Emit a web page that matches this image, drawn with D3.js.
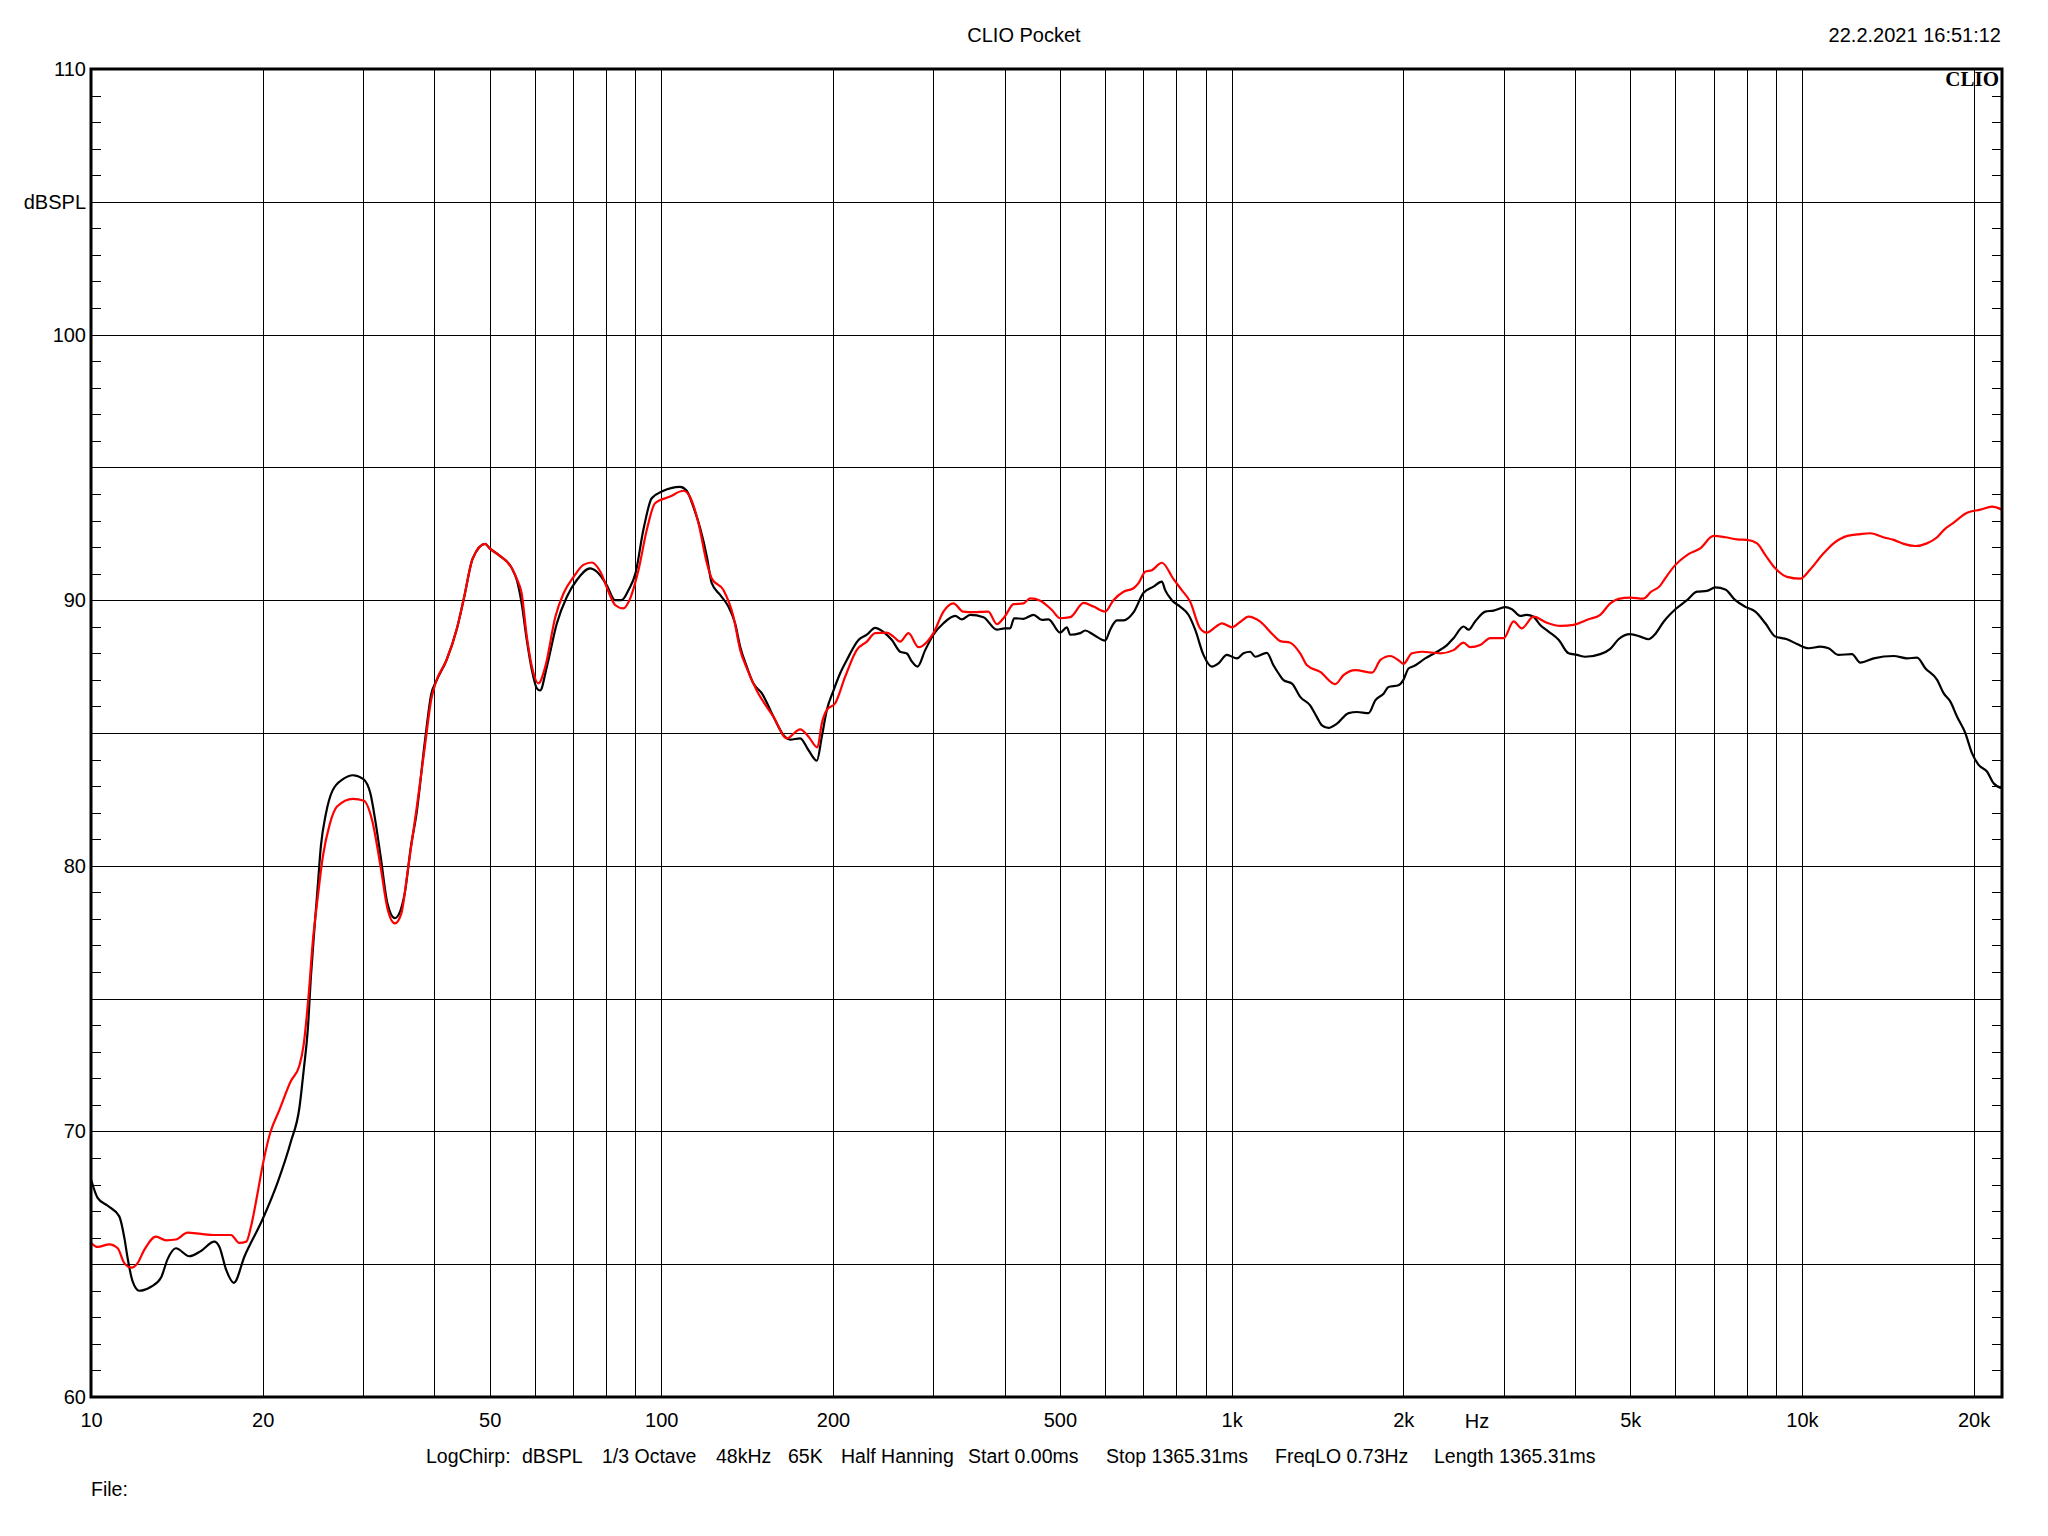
<!DOCTYPE html>
<html>
<head>
<meta charset="utf-8">
<script src="https://cdn.jsdelivr.net/npm/d3@7/dist/d3.min.js"></script>
<style>
  html, body { margin: 0; padding: 0; background: #fff; }
  svg { display: block; }
  text { font-family: "Liberation Sans", Arial, sans-serif; fill: #000; }
</style>
</head>
<body>
<svg id="chart" width="2048" height="1536"></svg>
<script>
(function () {
// ---------- DATA ----------
const titleText = "CLIO Pocket";
const dateText = "22.2.2021 16:51:12";
const fileText = "File:";
const unitX = "Hz";
const unitY = "dBSPL";

const xDomain = [10, 22430];
const yDomain = [60, 110];

const xLabelValues = [10, 20, 50, 100, 200, 500, 1000, 2000, 5000, 10000, 20000];
const xLabelTexts  = ["10", "20", "50", "100", "200", "500", "1k", "2k", "5k", "10k", "20k"];
const xGridValues  = [20, 30, 40, 50, 60, 70, 80, 90, 100, 200, 300, 400, 500, 600, 700, 800, 900,
                      1000, 2000, 3000, 4000, 5000, 6000, 7000, 8000, 9000, 10000, 20000];
const yLabelValues = [60, 70, 80, 90, 100, 110];
const yGridValues  = [65, 70, 75, 80, 85, 90, 95, 100, 105];
const yMinorValues = [61,62,63,64,66,67,68,69,71,72,73,74,76,77,78,79,81,82,83,84,86,87,88,89,
                      91,92,93,94,96,97,98,99,101,102,103,104,106,107,108,109];

const infoItems = ["LogChirp:", "dBSPL", "1/3 Octave", "48kHz", "65K", "Half Hanning",
                   "Start 0.00ms", "Stop 1365.31ms", "FreqLO 0.73Hz", "Length 1365.31ms"];

// black trace: [frequency Hz, level dB]
const blackCurve = [
[10,68.2],[10.27,67.5],[10.7,67.2],[11.21,66.8],[11.44,66.0],[11.6,65.2],[11.83,64.35],[12.15,64.0],
[12.74,64.15],[13.27,64.5],[13.63,65.2],[14.09,65.6],[14.87,65.3],[15.59,65.5],[16.45,65.85],[16.79,65.66],
[17.25,64.8],[17.8,64.3],[18.59,65.3],[20.0,66.7],[21.3,68.15],[22.4,69.6],[23.2,70.9],[23.6,72.3],
[24.0,73.86],[24.3,75.83],[24.6,77.4],[24.97,79.18],[25.3,80.75],[25.8,81.93],[26.5,82.82],[27.7,83.27],
[28.8,83.41],[30.0,83.27],[30.9,82.72],[31.5,81.73],[32.2,80.35],[33.1,78.58],[34.1,78.03],[34.7,78.2],
[35.5,78.98],[36.4,80.75],[37.2,81.93],[38.5,84.68],[39.5,86.46],[40.3,86.95],[42.0,87.74],[43.8,88.92],
[45.1,90.1],[46.7,91.57],[49.1,92.12],[50.0,91.95],[51.9,91.7],[54.7,91.2],[55.8,90.76],[56.9,89.88],
[58.1,88.5],[59.3,87.37],[60.5,86.68],[61.3,86.6],[63.0,87.5],[65.6,89.13],[68.3,90.13],[71.1,90.76],
[75.0,91.2],[77.1,91.07],[80.2,90.57],[83.0,90.0],[85.2,90.0],[87.6,90.38],[90.1,91.01],[93.0,92.64],
[96.2,93.84],[100.2,94.09],[107.9,94.27],[110.8,94.12],[113.8,93.52],[117,92.71],[120.2,91.64],[122.6,90.64],
[126.8,90.2],[131.1,89.76],[134.7,89.13],[137.5,88.25],[141.2,87.5],[145.0,86.87],[150.1,86.49],[157.3,85.61],
[163.8,84.92],[168.2,84.75],[175.2,84.8],[181.1,84.36],[187.4,83.96],[191.2,84.87],[195.1,85.87],[200.4,86.6],
[205.9,87.25],[211.5,87.75],[221.7,88.5],[229.3,88.7],[237.1,88.96],[245.3,88.8],[253.7,88.5],[262.3,88.06],
[269.5,87.99],[275,87.69],[281.4,87.5],[290.2,88.12],[300,88.7],[312.4,89.13],[327.5,89.41],[336.5,89.28],
[348,89.45],[367.2,89.36],[387.6,88.89],[400,88.94],[408.9,88.94],[415.6,89.32],[431.5,89.3],[449.4,89.45],
[464.9,89.26],[477.5,89.28],[500.5,88.78],[514.2,88.98],[521.2,88.7],[542.7,88.76],[553.8,88.86],[572.6,88.7],
[600.3,88.48],[612.5,88.89],[629.2,89.24],[646.3,89.24],[672.9,89.54],[700.8,90.28],[729.5,90.51],[754.6,90.7],
[764.7,90.38],[785.6,90.0],[812.3,89.76],[840.1,89.45],[863.2,88.89],[892.6,87.94],[923.5,87.5],[948.5,87.62],
[980.9,87.94],[1022,87.81],[1049,88.0],[1078,88.06],[1100,87.87],[1153,88.02],[1184,87.55],[1209,87.24],
[1233,86.99],[1276,86.86],[1319,86.36],[1373,86.04],[1411,85.6],[1440,85.29],[1479,85.19],[1530,85.35],
[1604,85.75],[1659,85.79],[1739,85.75],[1786,86.23],[1847,86.48],[1884,86.73],[1962,86.8],[2000,86.99],
[2043,87.43],[2084,87.51],[2185,87.81],[2291,88.06],[2386,88.31],[2450,88.57],[2551,89.01],[2604,88.89],
[2673,89.2],[2785,89.57],[2880,89.61],[3018,89.74],[3101,89.66],[3206,89.41],[3294,89.45],[3383,89.38],
[3476,89.07],[3595,88.82],[3744,88.51],[3899,88.0],[4033,87.94],[4170,87.87],[4430,87.97],[4613,88.17],
[4769,88.53],[5000,88.72],[5207,88.63],[5384,88.53],[5533,88.73],[5721,89.19],[6000,89.66],[6288,90.0],
[6546,90.32],[6816,90.35],[7048,90.48],[7339,90.4],[7642,90.0],[7958,89.75],[8286,89.57],[8628,89.13],
[8981,88.63],[9415,88.53],[9803,88.35],[10275,88.19],[10773,88.25],[11137,88.19],[11596,87.94],[12239,87.97],
[12658,87.65],[13361,87.81],[14480,87.9],[15285,87.81],[15920,87.84],[16456,87.44],[17261,87.0],[17728,86.49],
[18210,86.18],[18711,85.61],[19339,85.0],[19870,84.24],[20409,83.8],[21110,83.55],[21683,83.11],[22429,82.92]
];

// red trace: [frequency Hz, level dB]
const redCurve = [
[10,65.8],[10.27,65.65],[10.77,65.75],[11.14,65.6],[11.44,65.04],[11.78,64.87],[12.07,65.04],[12.4,65.54],
[13.0,66.04],[13.54,65.9],[14.09,65.93],[14.77,66.19],[15.59,66.14],[16.45,66.1],[17.6,66.1],[18.19,65.8],
[18.72,65.85],[19.07,66.4],[19.59,67.67],[20.0,68.73],[20.6,69.92],[21.4,70.81],[22.4,71.89],[23.2,72.48],
[23.6,73.27],[24.1,75.24],[24.5,77.21],[24.97,78.78],[25.5,80.35],[26.2,81.54],[27.0,82.23],[28.8,82.52],
[30.1,82.45],[31.1,81.73],[32.2,79.96],[33.1,78.39],[34.1,77.83],[35.0,78.2],[35.9,79.77],[37.2,82.1],
[38.5,84.5],[39.5,86.26],[40.3,86.95],[42.0,87.74],[43.8,88.92],[45.1,90.1],[46.7,91.57],[49.1,92.12],
[50.0,91.95],[51.9,91.7],[54.7,91.2],[55.8,90.8],[56.9,90.26],[58.1,88.63],[59.3,87.5],[60.9,86.87],
[62.6,87.5],[65.2,89.38],[67.4,90.26],[70.2,90.88],[73.0,91.33],[75.5,91.42],[78.2,91.07],[80.8,90.32],
[83.0,89.82],[85.8,89.69],[88.2,90.07],[91.2,91.14],[94.3,92.64],[97.5,93.65],[103.6,93.9],[109.3,94.12],
[112.2,93.9],[116.2,92.9],[120.2,91.39],[122.6,90.82],[128.5,90.38],[133.8,89.38],[137.5,88.13],[141.2,87.44],
[147.0,86.6],[157.3,85.61],[166,84.8],[175.2,85.14],[181.1,84.87],[187.8,84.46],[191.2,85.37],[195.1,85.87],
[201.8,86.12],[210.1,87.12],[220.2,88.13],[229.3,88.44],[237.1,88.76],[248.5,88.78],[255.3,88.63],[262.3,88.44],
[271.3,88.76],[282.5,88.23],[292.5,88.44],[300,88.76],[312.4,89.57],[325.2,89.88],[338.3,89.57],[352.1,89.55],
[374.4,89.57],[387.6,89.1],[400,89.38],[414.6,89.85],[431.5,89.88],[443.4,90.07],[461.8,89.98],[484.1,89.63],
[500.5,89.32],[521.2,89.36],[550.1,89.9],[572.6,89.76],[600.3,89.57],[620.5,90.0],[646.3,90.32],[672.9,90.45],
[686.7,90.64],[705.5,91.07],[724.7,91.13],[754.6,91.41],[791,90.79],[817.8,90.38],[845.7,89.95],[880.6,88.94],
[904.5,88.78],[942.2,89.03],[961.8,89.13],[1001,88.98],[1035,89.18],[1071,89.38],[1121,89.2],[1184,88.68],
[1217,88.46],[1267,88.4],[1319,88.0],[1356,87.55],[1430,87.3],[1520,86.84],[1571,87.18],[1648,87.37],
[1763,87.27],[1824,87.75],[1896,87.9],[1975,87.69],[2000,87.6],[2071,88.0],[2156,88.06],[2323,88.0],
[2450,88.12],[2551,88.4],[2621,88.23],[2728,88.31],[2842,88.57],[3000,88.57],[3122,89.2],[3227,88.94],
[3383,89.38],[3571,89.15],[3770,89.03],[3979,89.07],[4226,89.28],[4430,89.45],[4613,89.88],[4769,90.05],
[5000,90.1],[5269,90.06],[5441,90.32],[5644,90.55],[5756,90.82],[6000,91.33],[6288,91.7],[6632,91.95],
[7000,92.42],[7339,92.37],[7695,92.29],[8012,92.27],[8343,92.14],[8628,91.7],[8981,91.2],[9415,90.88],
[9935,90.81],[10341,91.16],[10847,91.7],[11366,92.14],[12008,92.42],[12658,92.49],[13165,92.52],[13890,92.37],
[14480,92.27],[15081,92.12],[15811,92.04],[16558,92.14],[17261,92.37],[17728,92.64],[18456,92.92],[19475,93.29],
[20547,93.41],[21543,93.52],[22429,93.41]
];

// ---------- LAYOUT ----------
const pL = 91, pR = 2002, pT = 69, pB = 1397;
const W = pR - pL, H = pB - pT;

const svg = d3.select("#chart");
const x = d3.scaleLog().domain(xDomain).range([pL, pR]);
const y = d3.scaleLinear().domain(yDomain).range([pB, pT]);

const styleLines = g => g.selectAll("line").attr("stroke", "#000").attr("stroke-width", 1)
  .attr("shape-rendering", "crispEdges");

// grid (vertical)
svg.append("g")
  .attr("transform", `translate(0,${pB})`)
  .call(d3.axisBottom(x).tickValues(xGridValues).tickSize(-H).tickFormat(""))
  .call(g => g.select(".domain").remove())
  .call(styleLines);

// grid (horizontal)
svg.append("g")
  .attr("transform", `translate(${pL},0)`)
  .call(d3.axisLeft(y).tickValues(yGridValues).tickSize(-W).tickFormat(""))
  .call(g => g.select(".domain").remove())
  .call(styleLines);

// minor ticks left and right
svg.append("g")
  .attr("transform", `translate(${pL},0)`)
  .call(d3.axisLeft(y).tickValues(yMinorValues).tickSize(-10).tickFormat(""))
  .call(g => g.select(".domain").remove())
  .call(styleLines);
svg.append("g")
  .attr("transform", `translate(${pR},0)`)
  .call(d3.axisRight(y).tickValues(yMinorValues).tickSize(-10).tickFormat(""))
  .call(g => g.select(".domain").remove())
  .call(styleLines);

// clip
svg.append("defs").append("clipPath").attr("id", "plotclip")
  .append("rect").attr("x", pL).attr("y", pT).attr("width", W).attr("height", H);

const line = d3.line()
  .x(d => x(d[0]))
  .y(d => y(d[1]))
  .curve(d3.curveMonotoneX);

const plot = svg.append("g").attr("clip-path", "url(#plotclip)");
plot.append("path").datum(blackCurve)
  .attr("d", line).attr("fill", "none").attr("stroke", "#000000").attr("stroke-width", 2.2)
  .attr("stroke-linejoin", "round");
plot.append("path").datum(redCurve)
  .attr("d", line).attr("fill", "none").attr("stroke", "#ff0000").attr("stroke-width", 2.2)
  .attr("stroke-linejoin", "round");

// frame
svg.append("rect").attr("x", pL).attr("y", pT).attr("width", W).attr("height", H)
  .attr("fill", "none").attr("stroke", "#000").attr("stroke-width", 3);

// x labels
svg.append("g")
  .attr("transform", `translate(0,${pB})`)
  .call(d3.axisBottom(x).tickValues(xLabelValues).tickSize(0).tickPadding(16)
        .tickFormat((d, i) => xLabelTexts[i]))
  .call(g => g.select(".domain").remove())
  .call(g => g.selectAll("text").attr("font-size", 20).attr("fill", "#000")
        .style("font-family", "'Liberation Sans', Arial, sans-serif"));

svg.append("text").attr("x", 1477).attr("y", 1428).attr("text-anchor", "middle")
  .attr("font-size", 20).text(unitX);

// y labels
svg.append("g")
  .attr("transform", `translate(${pL - 5},0)`)
  .call(d3.axisLeft(y).tickValues(yLabelValues).tickSize(0).tickPadding(0))
  .call(g => g.select(".domain").remove())
  .call(g => g.selectAll("text").attr("font-size", 20).attr("fill", "#000")
        .style("font-family", "'Liberation Sans', Arial, sans-serif"));

svg.append("text").attr("x", pL - 5).attr("y", y(105)).attr("dy", "0.35em")
  .attr("text-anchor", "end").attr("font-size", 20).text(unitY);

// title and date
svg.append("text").attr("x", 1024).attr("y", 42).attr("text-anchor", "middle")
  .attr("font-size", 20).text(titleText);
svg.append("text").attr("x", 2001).attr("y", 42).attr("text-anchor", "end")
  .attr("font-size", 20).text(dateText);

// CLIO logo
svg.append("text").attr("x", 1999).attr("y", 86).attr("text-anchor", "end")
  .style("font-family", "'Liberation Serif', 'DejaVu Serif', serif")
  .attr("font-weight", "bold").attr("font-size", 21).text("CLIO");

// info line
const infoX = [426, 522, 602, 716, 788, 841, 968, 1106, 1275, 1434];
svg.append("g").selectAll("text").data(infoItems).join("text")
  .attr("x", (d, i) => infoX[i]).attr("y", 1463)
  .attr("font-size", 19.5).text(d => d);

svg.append("text").attr("x", 91).attr("y", 1496).attr("font-size", 19.5).text(fileText);
})();
</script>
</body>
</html>
